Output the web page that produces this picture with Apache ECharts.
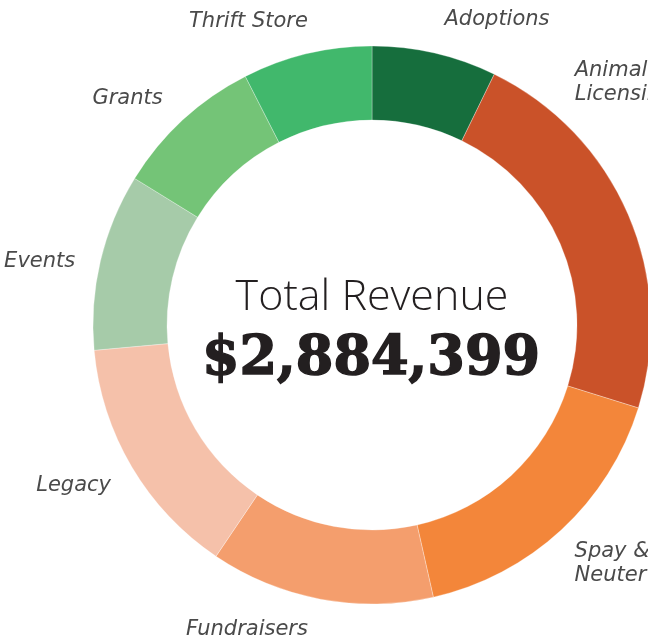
<!DOCTYPE html>
<html>
<head>
<meta charset="utf-8">
<script src="https://cdn.jsdelivr.net/npm/echarts@6/dist/echarts.min.js"></script>
<style>
  html, body { margin: 0; padding: 0; background: #fff; }
  #container { width: 648px; height: 641px; }
</style>
</head>
<body>
<div id="container"></div>
<script>
// revenue by source, clockwise from the top
const categories = ['Adoptions', 'Animal\nLicensing', 'Spay &\nNeuter', 'Fundraisers', 'Legacy', 'Events', 'Grants', 'Thrift Store'];
const revenue = [208300, 651400, 480700, 374200, 407000, 295700, 250800, 216299];
const sliceColors = ['#166e3d', '#ca5229', '#f3863a', '#f49e6d', '#f5c1aa', '#a6cba9', '#74c477', '#41b86c'];
const totalLabel = 'Total Revenue';
const totalValue = '$2,884,399';

var dom = document.getElementById('container');
var myChart = echarts.init(dom, null, { renderer: 'canvas' });

var pieData = categories.map(function (name, i) {
    return { name: name, value: revenue[i], itemStyle: { color: sliceColors[i] } };
});

// small nudges so the labels sit where the original put them
var labelNudge = {
    0: { dx: 0, dy: -4 },
    1: { dx: -84, dy: -120 },
    2: { dx: -10, dy: 11 },
    3: { dx: -4, dy: 1 },
    4: { dx: 8, dy: 3 },
    5: { dx: 7, dy: 7 },
    6: { dx: 3, dy: 1 },
    7: { dx: 11, dy: -3 }
};

var option = {
    animation: false,
    graphic: [
        {
            type: 'text',
            x: 372,
            y: 298,
            style: {
                text: totalLabel,
                align: 'center',
                verticalAlign: 'middle',
                font: '300 43px "Open Sans", sans-serif',
                fill: '#231f20'
            }
        },
        {
            type: 'text',
            x: 371,
            y: 360,
            style: {
                text: totalValue,
                align: 'center',
                verticalAlign: 'middle',
                font: '900 54px "DejaVu Serif", serif',
                fill: '#231f20',
                stroke: '#231f20',
                lineWidth: 1.5
            }
        }
    ],
    series: [{
        type: 'pie',
        left: 0,
        top: 0,
        width: 1000,
        height: 641,
        center: [372, 325],
        radius: [205, 279],
        startAngle: 90,
        clockwise: true,
        avoidLabelOverlap: false,
        itemStyle: { borderColor: '#ffffff', borderWidth: 0.3 },
        label: {
            show: true,
            position: 'outside',
            distanceToLabelLine: 3,
            overflow: 'none',
            fontFamily: '"DejaVu Sans", sans-serif',
            fontStyle: 'italic',
            fontSize: 21,
            lineHeight: 24,
            color: '#4a4a4a'
        },
        labelLine: { show: false, length: 30, length2: 0 },
        labelLayout: function (params) {
            return labelNudge[params.dataIndex] || {};
        },
        emphasis: { disabled: true },
        data: pieData
    }]
};

myChart.setOption(option);
window.addEventListener('resize', myChart.resize);
</script>
</body>
</html>
